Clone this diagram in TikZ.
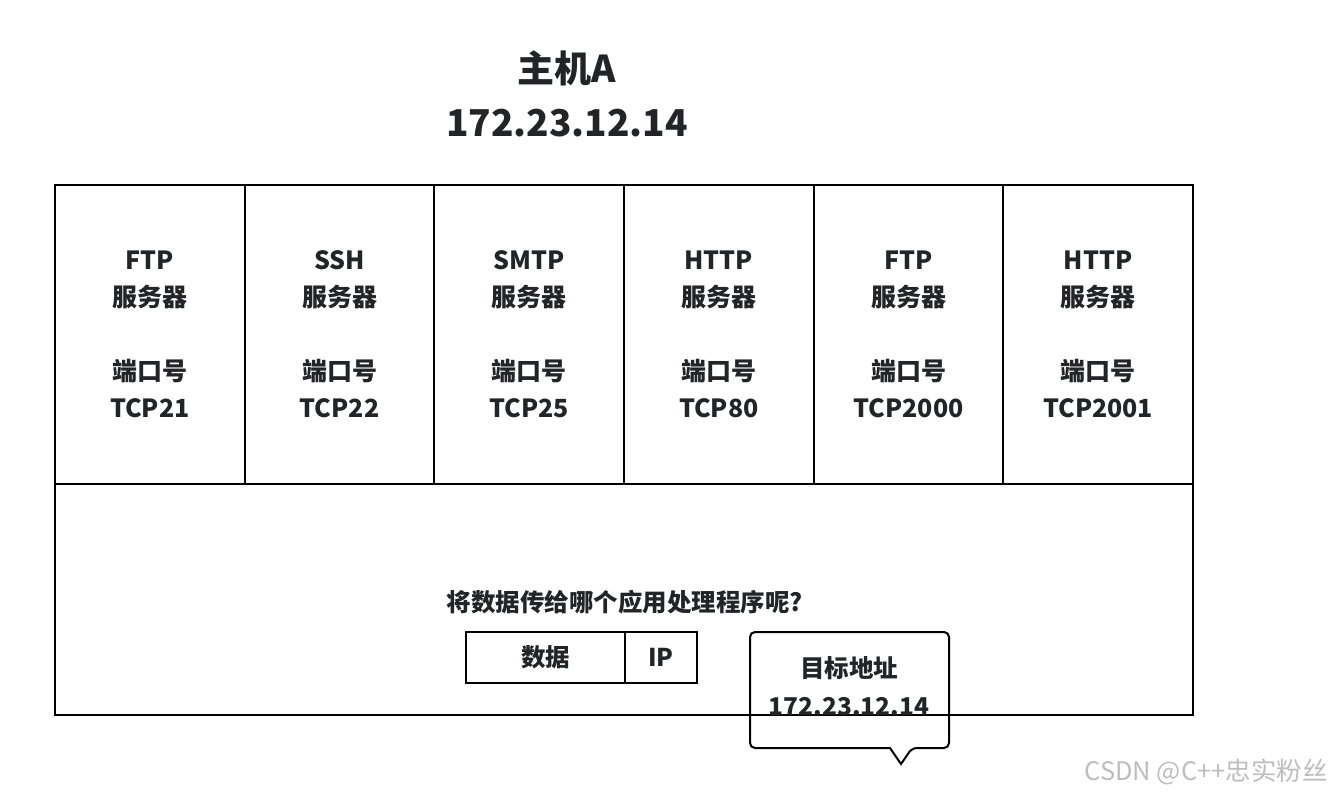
\documentclass[tikz,border=0pt]{standalone}
\usepackage{fontspec}
\setmainfont{Noto Sans CJK SC}
\usepackage{xcolor}
\usetikzlibrary{positioning,calc}
\definecolor{ink}{HTML}{222428}
\definecolor{mark}{HTML}{BDBDBD}
\newcommand{\bigtxt}{\fontsize{37}{54}\selectfont\bfseries}
\newcommand{\lbltxt}{\fontsize{25}{37}\selectfont\bfseries}
\newcommand{\midtxt}{\fontsize{24.5}{38}\selectfont\bfseries}

\begin{document}
\begin{tikzpicture}[x=1pt,y=-1pt,
    cell/.style={draw, line width=2pt, inner sep=0pt, outer sep=0pt, align=center, text=ink},
    label/.style={text=ink, align=center}]
    \useasboundingbox (0,0) rectangle (1333,794);
    % Host
    \node[label, font=\bigtxt] (host) at (567,94) {主机A\\172.23.12.14};
    % Servers
    \foreach \i/\srv/\port in {1/FTP/21, 2/SSH/22, 3/SMTP/25, 4/HTTP/80, 5/FTP/2000, 6/HTTP/2001}
        \node[cell, font=\lbltxt, anchor=north west, minimum width=189.67pt, minimum height=299pt]
            (c\i) at ({55+(\i-1)*189.67},185) {\srv\\服务器\\[37pt]端口号\\TCP\port};
    % Transport layer
    \node[cell, anchor=north west, minimum width=1138pt, minimum height=231pt] (lower) at (55,484) {};
    \node[label, font=\midtxt] (ask) at (625,602) {将数据传给哪个应用处理程序呢?};
    \node[cell, font=\midtxt, minimum width=159pt, minimum height=51pt] (data) at (545.5,657.5) {数据};
    \node[cell, font=\midtxt, minimum width=72pt, minimum height=51pt, right=0pt of data] (ip) {IP};
    % Callout
    \node[label, font=\midtxt] (dest) at (849,686) {目标地址\\172.23.12.14};
    \draw[line width=2pt] (901,764) -- (890,748) [rounded corners=5pt] -| (750,632) -| (949,748) -- (912,748) [sharp corners] -- cycle;
    % Watermark
    \node[text=mark, font=\fontsize{25.5}{30}\selectfont] (wm) at (1206,772) {CSDN @C++忠实粉丝};
\end{tikzpicture}
\end{document}
